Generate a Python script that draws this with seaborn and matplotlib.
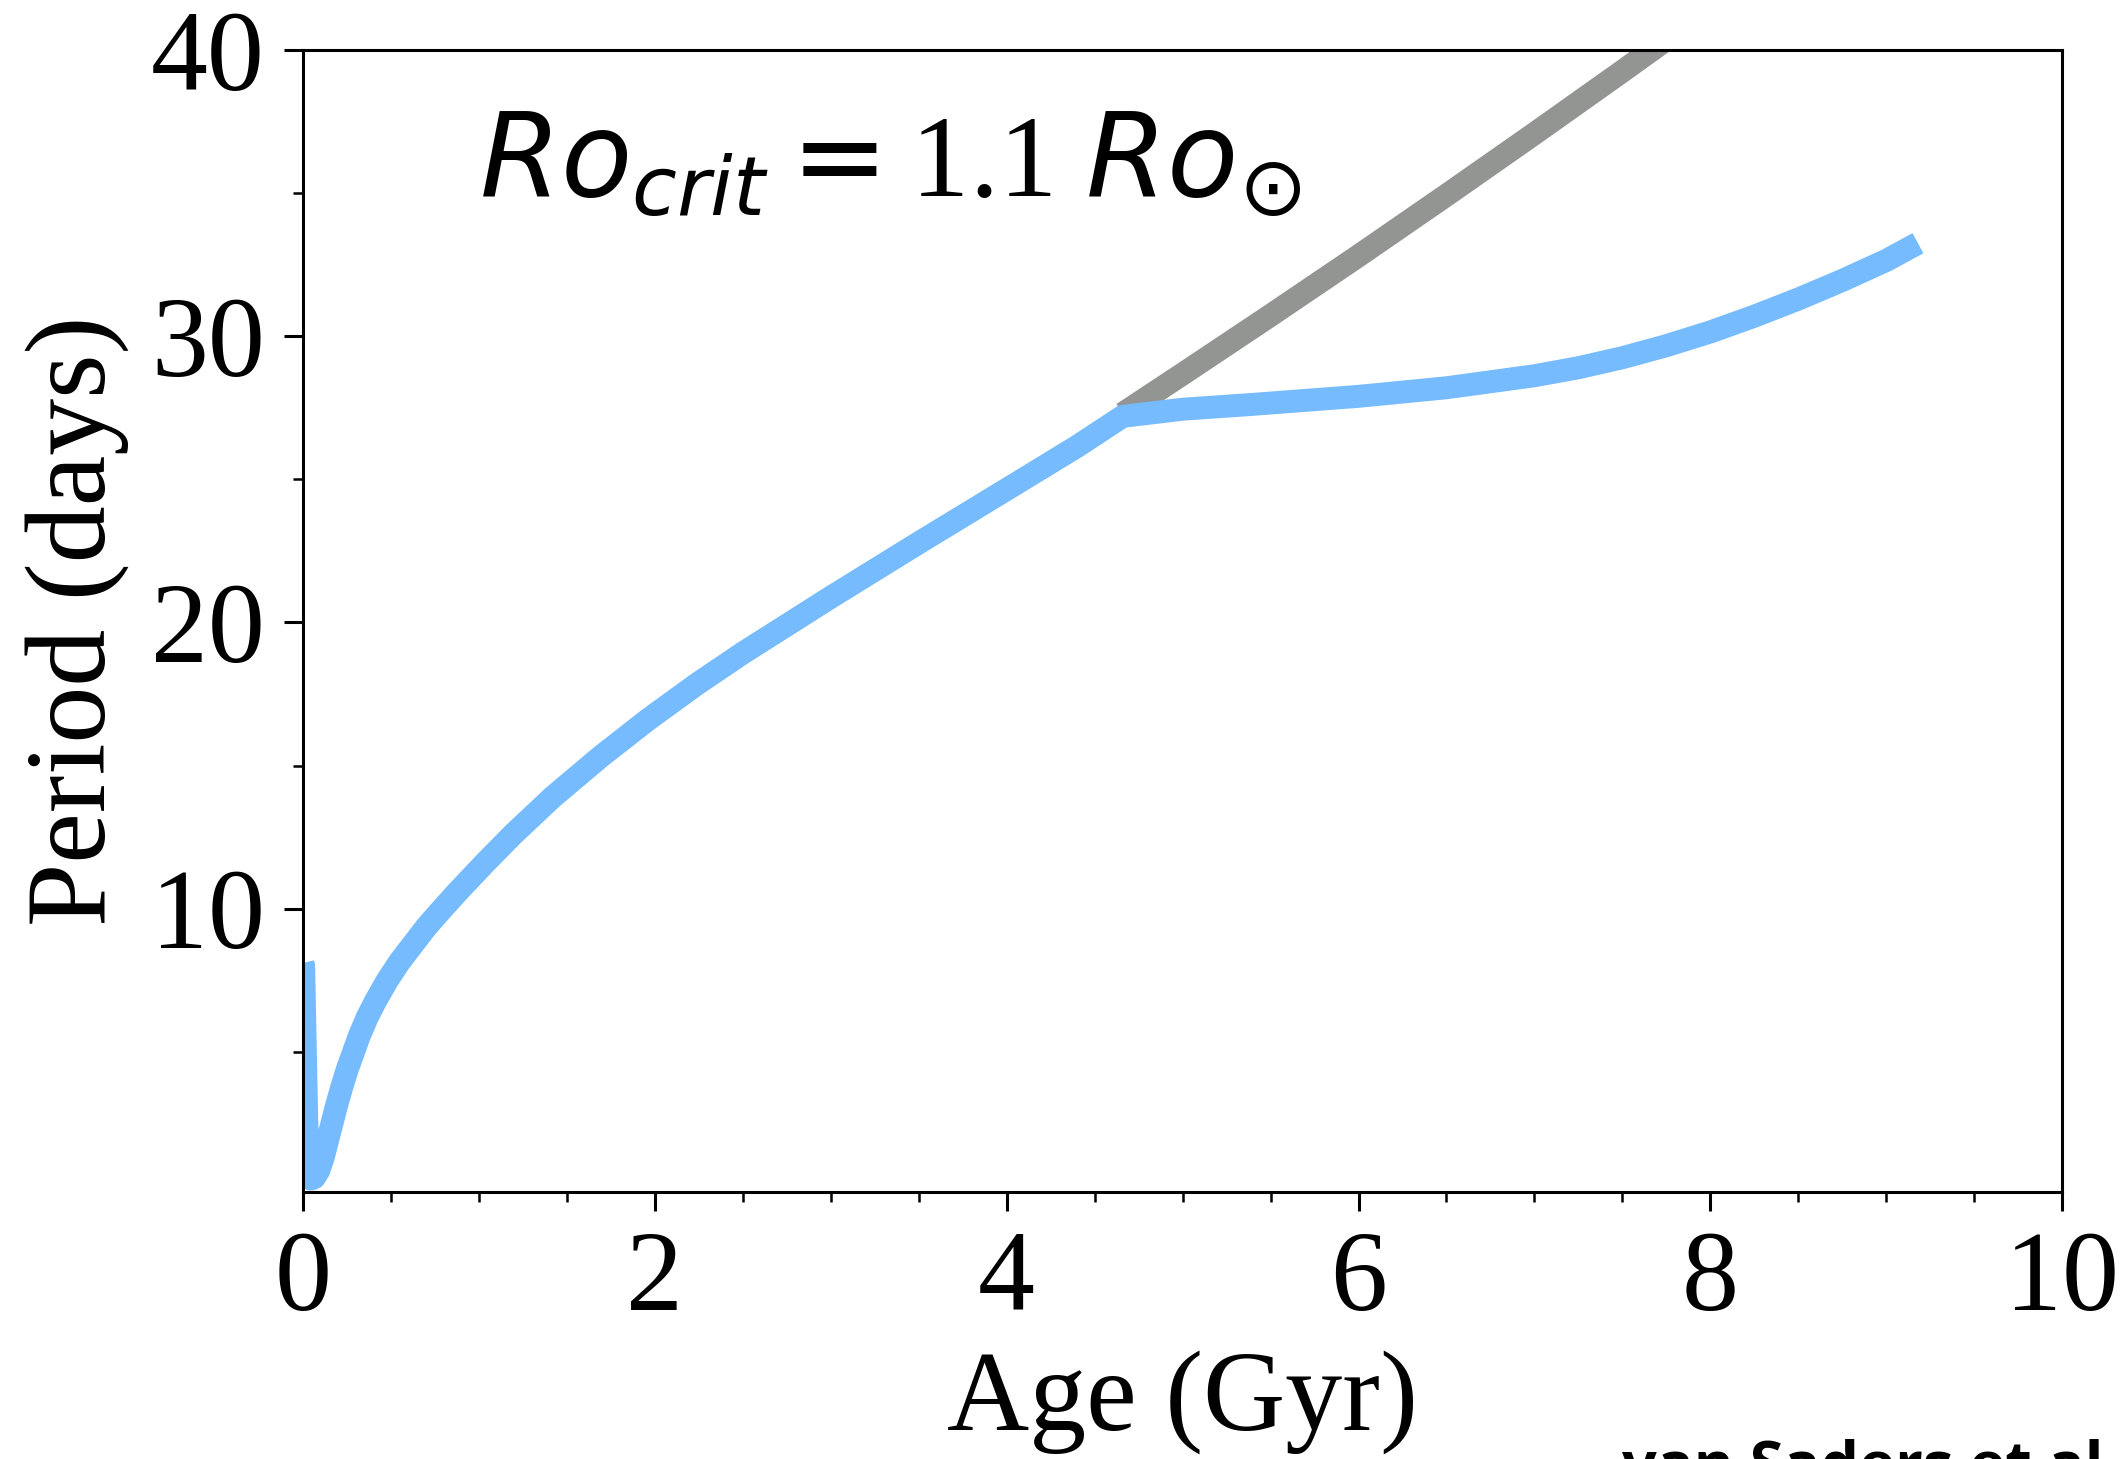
import numpy as np
import pandas as pd
import matplotlib
matplotlib.use("Agg")
import matplotlib.pyplot as plt
from matplotlib.ticker import MultipleLocator
import seaborn as sns

# Rotation period evolution of a solar-type star
# Standard spin-down (continues past the critical Rossby number)
age_standard = [4.66, 5.0, 5.5, 6.0, 6.5, 7.0, 7.5, 8.0]
period_standard = [27.3, 28.68, 30.73, 32.81, 34.93, 37.08, 39.26, 41.47]

# Weakened magnetic braking model (Ro_crit = 1.1 Ro_sun)
age_weakened = [0.0, 0.004, 0.012, 0.022, 0.035, 0.045, 0.065, 0.09, 0.115,
                0.14, 0.165, 0.19, 0.22, 0.25, 0.285, 0.32, 0.365, 0.415,
                0.48, 0.55, 0.625, 0.70, 0.79, 0.875, 1.035, 1.195, 1.42,
                1.69, 1.96, 2.24, 2.5, 3.0, 3.5, 4.0, 4.4, 4.66,
                5.0, 5.4, 6.0, 6.5, 7.0, 7.25, 7.5, 7.75, 8.0, 8.25, 8.5,
                8.75, 9.0, 9.18]
period_weakened = [8.1, 8.0, 5.5, 2.5, 1.0, 0.55, 0.6, 0.85, 1.3,
                   1.9, 2.5, 3.1, 3.75, 4.35, 4.95, 5.55, 6.2, 6.8,
                   7.5, 8.15, 8.75, 9.35, 9.98, 10.56, 11.6, 12.6, 13.9,
                   15.3, 16.6, 17.85, 18.93, 20.88, 22.78, 24.65, 26.15, 27.2,
                   27.45, 27.62, 27.9, 28.2, 28.62, 28.9, 29.25, 29.67, 30.15,
                   30.7, 31.3, 31.95, 32.65, 33.25]

df_standard = pd.DataFrame({"Age": age_standard, "Period": period_standard})
df_weakened = pd.DataFrame({"Age": age_weakened, "Period": period_weakened})

sns.set_style("ticks")
plt.rcParams["font.family"] = ["Liberation Serif", "DejaVu Serif"]
plt.rcParams["mathtext.fontset"] = "dejavusans"
plt.rcParams["text.color"] = "black"
plt.rcParams["axes.labelcolor"] = "black"

fig = plt.figure(figsize=(21.26, 14.59), dpi=100)
ax = fig.add_axes([0.1425, 0.183, 0.8275, 0.7827])

sns.lineplot(data=df_standard, x="Age", y="Period", sort=False, estimator=None,
             color="#929591", linewidth=16.5, ax=ax, solid_capstyle="butt")
sns.lineplot(data=df_weakened, x="Age", y="Period", sort=False, estimator=None,
             color="#75bbfd", linewidth=16.5, ax=ax, solid_capstyle="butt",
             solid_joinstyle="round")

ax.set_xlim(0, 10)
ax.set_ylim(0.1, 40)
ax.xaxis.set_major_locator(MultipleLocator(2))
ax.xaxis.set_minor_locator(MultipleLocator(0.5))
ax.yaxis.set_major_locator(MultipleLocator(10))
ax.yaxis.set_minor_locator(MultipleLocator(5))

for side in ax.spines.values():
    side.set_linewidth(2.2)
    side.set_color("black")
ax.tick_params(which="major", direction="out", length=13.5, width=2.2,
               labelsize=82, pad=14, colors="black")
ax.tick_params(which="minor", direction="out", length=7, width=1.8,
               colors="black")

ax.set_xlabel("Age (Gyr)", fontsize=82, labelpad=12, color="black")
ax.set_ylabel("Period (days)", fontsize=82, labelpad=16, color="black")

ax.text(1.0, 34.9, r"$Ro_{crit} =$1.1 $Ro_{\odot}$", fontsize=84,
        ha="left", va="baseline", color="black")

fig.text(0.763, -0.0178, "van Saders et al.", fontsize=44,
         family=["Open Sans", "DejaVu Sans"], fontweight="bold",
         ha="left", va="baseline", color="black")

fig.savefig("out.png", dpi=100)
